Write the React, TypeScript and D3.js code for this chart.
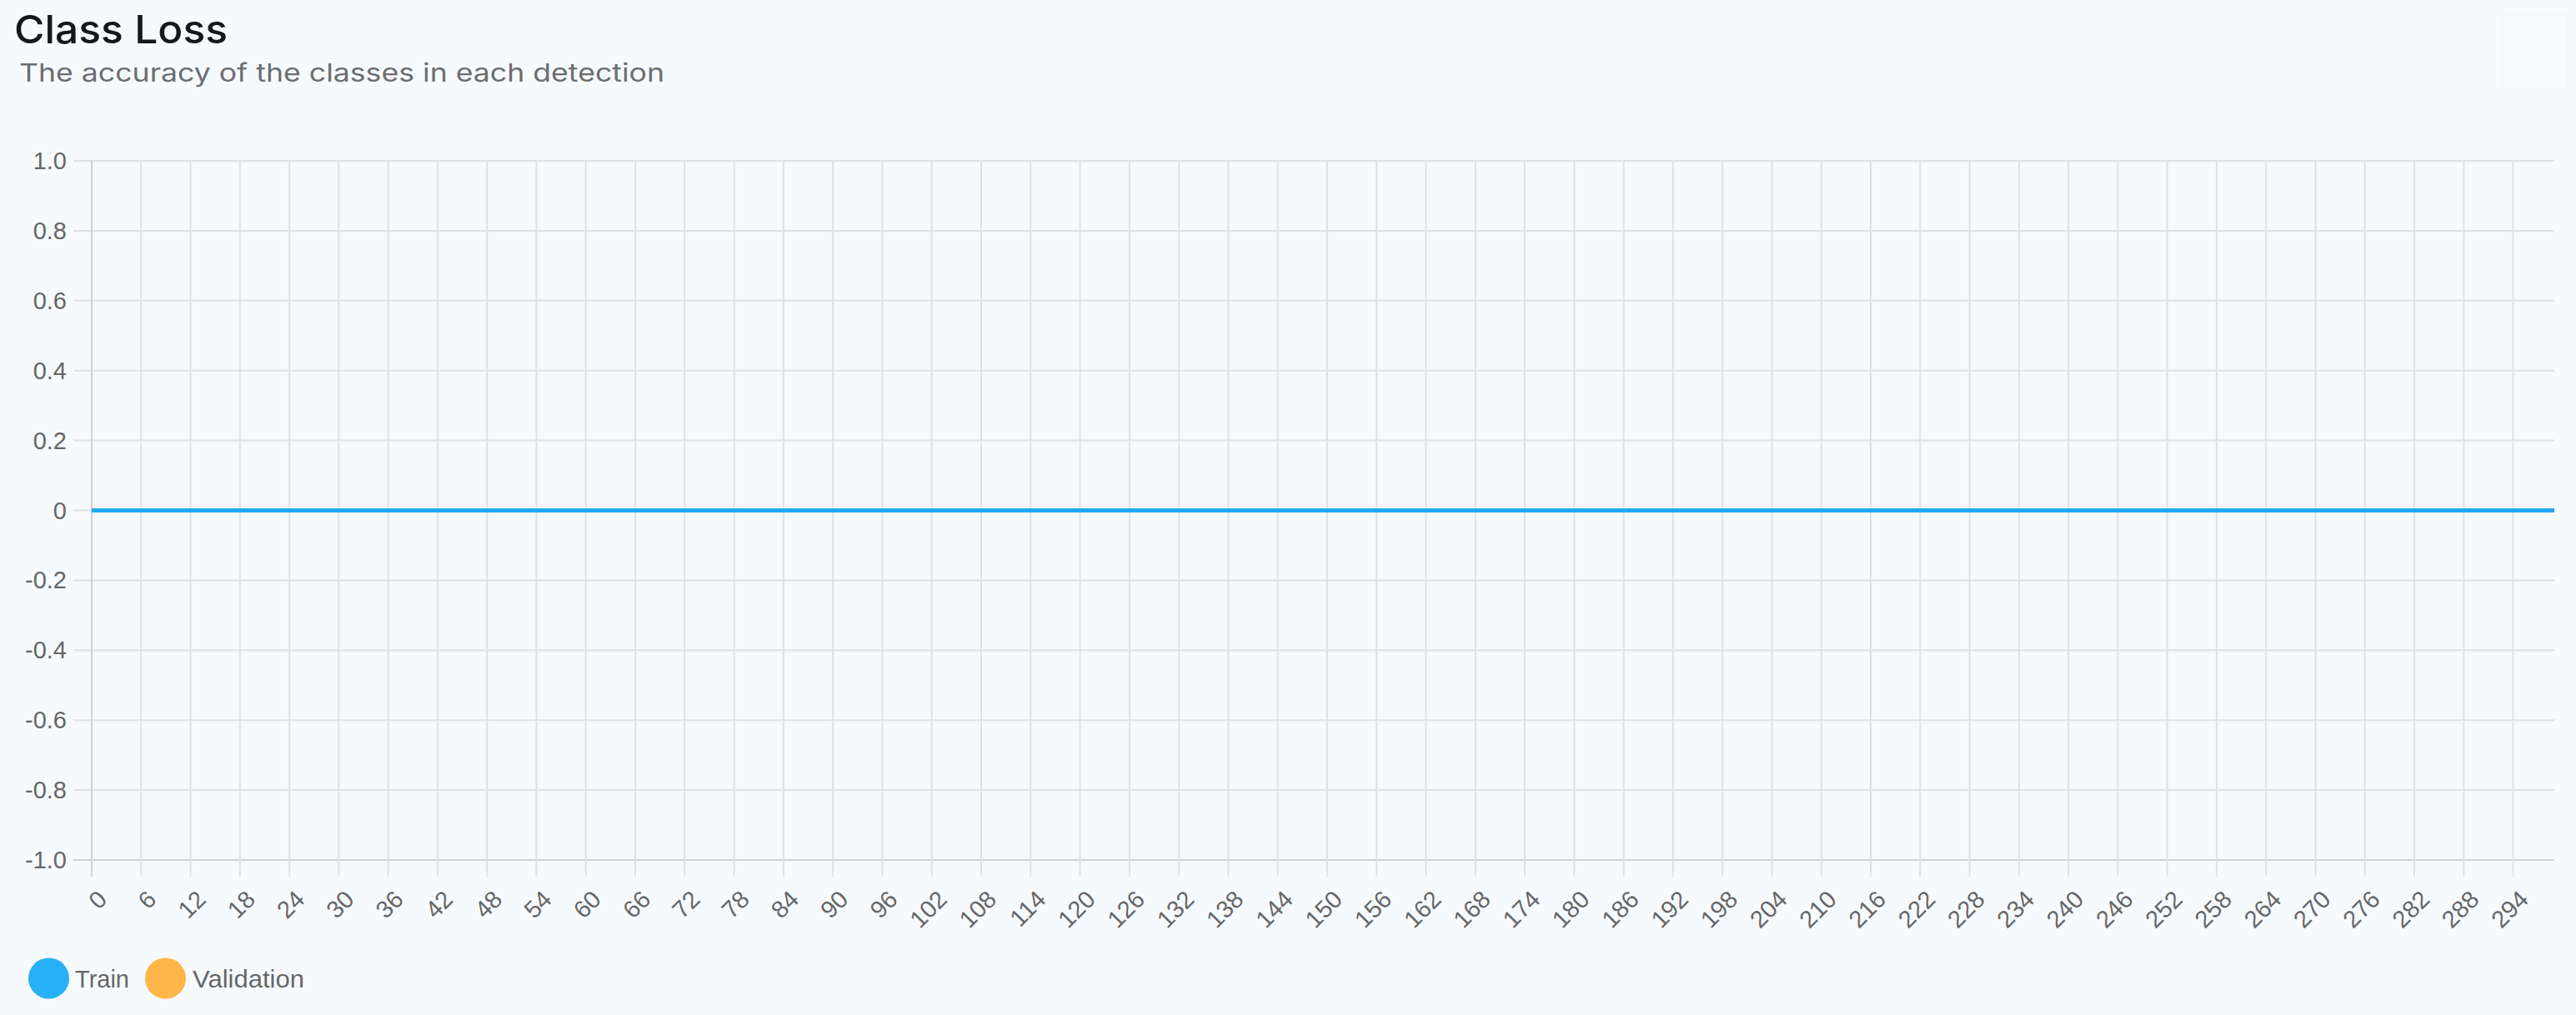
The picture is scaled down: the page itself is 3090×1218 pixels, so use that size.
import React, { useEffect } from 'react';
import * as d3 from 'd3';

// ---- data ----
const chartTitle = 'Class Loss';
const chartSubtitle = 'The accuracy of the classes in each detection';
const epochCount = 300;
const epochs: number[] = d3.range(epochCount);
const xTickStep = 6;
const yTickValues: number[] = [1.0, 0.8, 0.6, 0.4, 0.2, 0, -0.2, -0.4, -0.6, -0.8, -1.0];
const yTickLabels: string[] = ['1.0', '0.8', '0.6', '0.4', '0.2', '0', '-0.2', '-0.4', '-0.6', '-0.8', '-1.0'];
// every value in both series reads as 0 in the picture
const trainLoss: number[] = new Array(epochCount).fill(0);
const validationLoss: number[] = new Array(epochCount).fill(0);
const seriesNames: string[] = ['Train', 'Validation'];
const seriesColors: string[] = ['#1fa9f4', '#ffb548'];
const legendColors: string[] = ['#27b0f8', '#ffb548'];

const W = 3090;
const H = 1218;
const BG = '#f7fafd';

export default function App() {
  useEffect(() => {
    document.body.style.margin = '0';
    document.body.style.background = BG;
  }, []);

  const left = 110;
  const right = 3064;
  const top = 193;
  const bottom = 1032;

  const x = d3.scalePoint<number>().domain(epochs).range([left, right]);
  const y = d3.scaleLinear().domain([-1, 1]).range([bottom, top]);

  const xTicks = epochs.filter((e) => e % xTickStep === 0);

  const line = d3
    .line<number>()
    .x((_, i) => x(epochs[i]) as number)
    .y((v) => y(v));

  const labelFont = '"Liberation Sans", Arial, Helvetica, sans-serif';
  const gridColor = '#dfe1e5';
  const axisColor = '#cfd2d6';

  return (
    <svg
      width={W}
      height={H}
      style={{ position: 'absolute', left: 0, top: 0, display: 'block', background: BG }}
    >
      <rect x={0} y={0} width={W} height={H} fill={BG} />
      {/* faint corner button */}
      <rect x={3002} y={18} width={78} height={90} fill="#f8fafc" stroke="#f5f6f8" strokeWidth={2} />

      <text
        x={17}
        y={52}
        fontFamily="Inter, 'Noto Sans', sans-serif"
        fontWeight={500}
        fontSize={47}
        fill="#15171c"
        textLength={256}
        lengthAdjust="spacingAndGlyphs"
      >
        {chartTitle}
      </text>
      <text
        x={23}
        y={98}
        fontFamily="Inter, 'Noto Sans', sans-serif"
        fontWeight={400}
        fontSize={30}
        fill="#6d6d6f"
        textLength={774}
        lengthAdjust="spacingAndGlyphs"
      >
        {chartSubtitle}
      </text>

      {/* horizontal grid */}
      {yTickValues.map((v, i) => (
        <g key={'y' + i}>
          <line
            x1={88}
            x2={right}
            y1={y(v)}
            y2={y(v)}
            stroke={v === -1 ? axisColor : gridColor}
            strokeWidth={2}
          />
          <text
            x={80}
            y={y(v)}
            textAnchor="end"
            dominantBaseline="central"
            fontFamily={labelFont}
            fontSize={29}
            fill="#666"
          >
            {yTickLabels[i]}
          </text>
        </g>
      ))}

      {/* vertical grid + x labels */}
      {xTicks.map((e) => {
        const px = x(e) as number;
        return (
          <g key={'x' + e}>
            <line
              x1={px}
              x2={px}
              y1={top}
              y2={1052}
              stroke={e === 0 ? axisColor : gridColor}
              strokeWidth={2}
            />
            <text
              transform={`translate(${px + 20},1081) rotate(-45)`}
              textAnchor="end"
              fontFamily={labelFont}
              fontSize={29}
              fill="#666"
            >
              {String(e)}
            </text>
          </g>
        );
      })}

      {/* series: validation under train */}
      <path d={line(validationLoss) || ''} fill="none" stroke={seriesColors[1]} strokeWidth={5} />
      <path d={line(trainLoss) || ''} fill="none" stroke={seriesColors[0]} strokeWidth={5} />

      {/* legend */}
      <g>
        <circle cx={58.5} cy={1174} r={24.5} fill={legendColors[0]} />
        <text x={90} y={1185} fontFamily={labelFont} fontSize={30} fill="#666" textLength={65} lengthAdjust="spacingAndGlyphs">
          {seriesNames[0]}
        </text>
        <circle cx={198.5} cy={1174} r={24.5} fill={legendColors[1]} />
        <text x={231} y={1185} fontFamily={labelFont} fontSize={30} fill="#666" textLength={134} lengthAdjust="spacingAndGlyphs">
          {seriesNames[1]}
        </text>
      </g>
    </svg>
  );
}
